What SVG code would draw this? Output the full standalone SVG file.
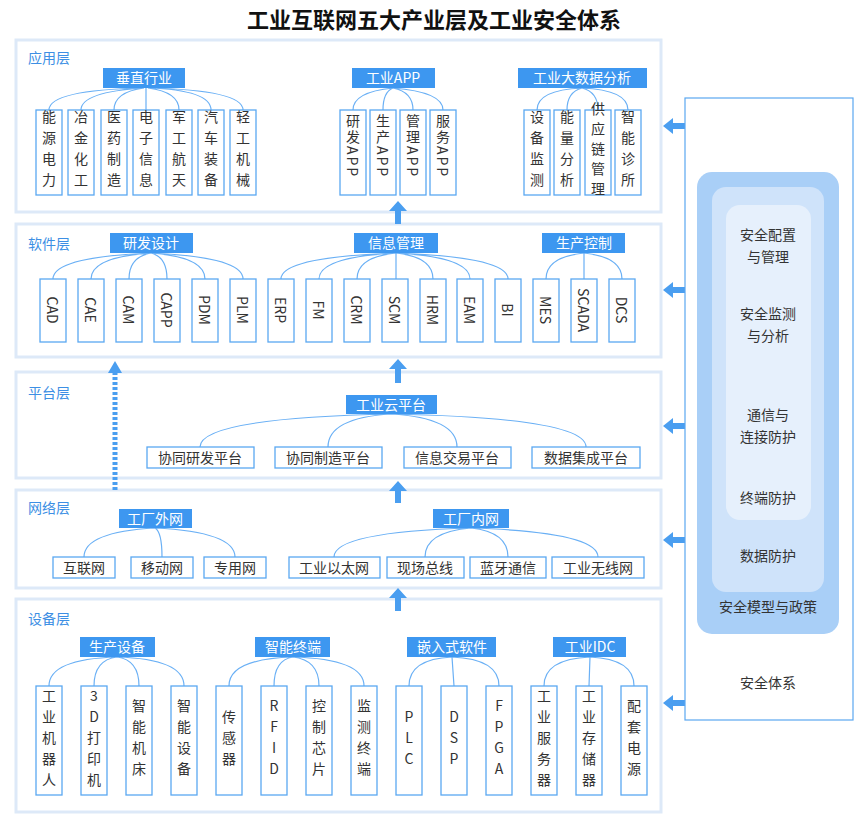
<svg xmlns="http://www.w3.org/2000/svg" width="868" height="820" viewBox="0 0 868 820">
<style>
text{font-family:"Noto Sans CJK SC","Noto Sans",sans-serif}
.title{font-size:22px;font-weight:bold;fill:#111}
.layer{fill:#fff;stroke:#dde9f8;stroke-width:3}
.ll{font-size:14px;fill:#3d8fe4}
.hd{fill:#3d97f0}
.ht{font-size:14px;fill:#fff;text-anchor:middle}
.bx{fill:#fff;stroke:#5aa8f2;stroke-width:1.3}
.vt{font-size:14px;fill:#333;writing-mode:vertical-rl;text-anchor:middle}
.vu{font-size:14px;fill:#333;writing-mode:vertical-rl;text-orientation:upright;text-anchor:middle}
.ht2{font-size:14px;fill:#333;text-anchor:middle}
.cn{fill:none;stroke:#6ab0f5;stroke-width:1.2}
.ar{fill:#4a9ef0}
.st{font-size:14px;fill:#333;text-anchor:middle}
</style>
<text class="title" x="434" y="28" text-anchor="middle">工业互联网五大产业层及工业安全体系</text>

<g id="layers">
<rect class="layer" x="16" y="40" width="645" height="172"/>
<text class="ll" x="28" y="63">应用层</text>
<rect class="layer" x="16" y="224" width="645" height="133"/>
<text class="ll" x="28" y="249">软件层</text>
<rect class="layer" x="16" y="372" width="645" height="106"/>
<text class="ll" x="28" y="398">平台层</text>
<rect class="layer" x="16" y="490" width="645" height="98"/>
<text class="ll" x="28" y="513">网络层</text>
<rect class="layer" x="16" y="599" width="645" height="213"/>
<text class="ll" x="28" y="624">设备层</text>
</g>

<g id="connectors">
<path class="cn" d="M144,88 Q49,90 49,110 M144,88 Q81,92 81,110 M144,88 Q114,92 114,110 M146,88 L146,110 M148,88 Q179,92 179,110 M148,88 Q211,90 211,110 M148,88 Q243,90 243,110"/>
<path class="cn" d="M393,88 Q353,92 353,110 M393,88 Q383,92 383,110 M393,88 Q413,92 413,110 M393,88 Q443,92 443,110"/>
<path class="cn" d="M582,88 Q537,90 537,110 M582,88 Q567,92 567,110 M582,88 Q598,92 598,110 M582,88 Q628,90 628,110"/>
<path class="cn" d="M151,253 Q53,257 53,279 M151,253 Q91,257 91,279 M151,253 Q129,257 129,279 M151,253 Q167,257 167,279 M151,253 Q205,257 205,279 M151,253 Q243,257 243,279"/>
<path class="cn" d="M396,253 Q281,257 281,279 M396,253 Q319,257 319,279 M396,253 Q357,257 357,279 M396,253 L396,279 M396,253 Q433,257 433,279 M396,253 Q470,257 470,279 M396,253 Q508,257 508,279"/>
<path class="cn" d="M584,253 Q546,257 546,279 M584,253 L584,279 M584,253 Q622,257 622,279"/>
<path class="cn" d="M391,414 Q200,418 200,447 M391,414 Q328,418 328,447 M391,414 Q457,418 457,447 M391,414 Q586,418 586,447"/>
<path class="cn" d="M155,528 Q84,532 84,557 M155,528 Q162,532 162,557 M155,528 Q235,532 235,557"/>
<path class="cn" d="M471,528 Q334,532 334,557 M471,528 Q425,532 425,557 M471,528 Q508,532 508,557 M471,528 Q598,532 598,557"/>
<path class="cn" d="M117,657 Q49,659 49,686 M117,657 Q94,660 94,686 M117,657 Q139,660 139,686 M117,657 Q184,659 184,686"/>
<path class="cn" d="M293,657 Q229,659 229,686 M293,657 Q274,660 274,686 M293,657 Q319,660 319,686 M293,657 Q364,659 364,686"/>
<path class="cn" d="M452,657 Q409,659 409,686 M452,657 L454,686 M452,657 Q499,659 499,686"/>
<path class="cn" d="M590,657 Q544,659 544,686 M590,657 L589,686 M590,657 Q634,659 634,686"/>
<path class="ar" d="M395,224 V211 H389 L398,201 L407,211 H401 V224 Z"/>
<path class="ar" d="M395,383 V369 H389 L398,359 L407,369 H401 V383 Z"/>
<path class="ar" d="M395,503 V491 H389 L398,481 L407,491 H401 V503 Z"/>
<path class="ar" d="M395,611 V598 H389 L398,588 L407,598 H401 V611 Z"/>
<path d="M115,490 V372" stroke="#4a9ef0" stroke-width="5" stroke-dasharray="3,2"/>
<path class="ar" d="M108,373 L115,361 L122,373 Z"/>
<path class="ar" d="M685,123 H673 V118 L663,126 L673,134 V129 H685 Z"/>
<path class="ar" d="M685,287 H673 V282 L663,290 L673,298 V293 H685 Z"/>
<path class="ar" d="M685,423 H673 V418 L663,426 L673,434 V429 H685 Z"/>
<path class="ar" d="M685,537 H673 V532 L663,540 L673,548 V543 H685 Z"/>
<path class="ar" d="M685,700 H673 V695 L663,703 L673,711 V706 H685 Z"/>
</g>

<g id="app">
<rect class="hd" x="103" y="68" width="82" height="20"/><text class="ht" x="144" y="83">垂直行业</text>
<rect class="bx" x="36" y="110" width="26" height="85"/><text class="vu" x="49" y="152" letter-spacing="7">能源电力</text>
<rect class="bx" x="68" y="110" width="26" height="85"/><text class="vu" x="81" y="152" letter-spacing="7">冶金化工</text>
<rect class="bx" x="101" y="110" width="26" height="85"/><text class="vu" x="114" y="152" letter-spacing="7">医药制造</text>
<rect class="bx" x="133" y="110" width="26" height="85"/><text class="vu" x="146" y="152" letter-spacing="7">电子信息</text>
<rect class="bx" x="166" y="110" width="26" height="85"/><text class="vu" x="179" y="152" letter-spacing="7">军工航天</text>
<rect class="bx" x="198" y="110" width="26" height="85"/><text class="vu" x="211" y="152" letter-spacing="7">汽车装备</text>
<rect class="bx" x="230" y="110" width="26" height="85"/><text class="vu" x="243" y="152" letter-spacing="7">轻工机械</text>
<rect class="hd" x="352" y="68" width="83" height="20"/><text class="ht" x="393" y="83">工业APP</text>
<rect class="bx" x="340" y="110" width="26" height="85"/><text class="vt" x="353" y="146" letter-spacing="2">研发APP</text>
<rect class="bx" x="370" y="110" width="26" height="85"/><text class="vt" x="383" y="146" letter-spacing="2">生产APP</text>
<rect class="bx" x="400" y="110" width="26" height="85"/><text class="vt" x="413" y="146" letter-spacing="2">管理APP</text>
<rect class="bx" x="430" y="110" width="26" height="85"/><text class="vt" x="443" y="146" letter-spacing="2">服务APP</text>
<rect class="hd" x="518" y="68" width="129" height="20"/><text class="ht" x="582" y="83">工业大数据分析</text>
<rect class="bx" x="524" y="110" width="26" height="85"/><text class="vu" x="537" y="152" letter-spacing="7">设备监测</text>
<rect class="bx" x="554" y="110" width="26" height="85"/><text class="vu" x="567" y="152" letter-spacing="7">能量分析</text>
<rect class="bx" x="585" y="110" width="26" height="85"/><text class="vu" x="598" y="152" font-size="11" letter-spacing="6">供应链管理</text>
<rect class="bx" x="615" y="110" width="26" height="85"/><text class="vu" x="628" y="152" letter-spacing="7">智能诊所</text>
</g>

<g id="software">
<rect class="hd" x="110" y="233" width="83" height="20"/><text class="ht" x="151" y="248">研发设计</text>
<rect class="hd" x="354" y="233" width="84" height="20"/><text class="ht" x="396" y="248">信息管理</text>
<rect class="hd" x="542" y="233" width="83" height="20"/><text class="ht" x="584" y="248">生产控制</text>
<rect class="bx" x="40" y="279" width="26" height="63"/><text class="vt" x="53" y="310">CAD</text>
<rect class="bx" x="78" y="279" width="26" height="63"/><text class="vt" x="91" y="310">CAE</text>
<rect class="bx" x="116" y="279" width="26" height="63"/><text class="vt" x="129" y="310">CAM</text>
<rect class="bx" x="154" y="279" width="26" height="63"/><text class="vt" x="167" y="310">CAPP</text>
<rect class="bx" x="192" y="279" width="26" height="63"/><text class="vt" x="205" y="310">PDM</text>
<rect class="bx" x="230" y="279" width="26" height="63"/><text class="vt" x="243" y="310">PLM</text>
<rect class="bx" x="268" y="279" width="26" height="63"/><text class="vt" x="281" y="310">ERP</text>
<rect class="bx" x="306" y="279" width="26" height="63"/><text class="vt" x="319" y="310">FM</text>
<rect class="bx" x="344" y="279" width="26" height="63"/><text class="vt" x="357" y="310">CRM</text>
<rect class="bx" x="382" y="279" width="26" height="63"/><text class="vt" x="395" y="310">SCM</text>
<rect class="bx" x="420" y="279" width="26" height="63"/><text class="vt" x="433" y="310">HRM</text>
<rect class="bx" x="457" y="279" width="26" height="63"/><text class="vt" x="470" y="310">EAM</text>
<rect class="bx" x="495" y="279" width="26" height="63"/><text class="vt" x="508" y="310">BI</text>
<rect class="bx" x="533" y="279" width="26" height="63"/><text class="vt" x="546" y="310">MES</text>
<rect class="bx" x="571" y="279" width="26" height="63"/><text class="vt" x="584" y="310">SCADA</text>
<rect class="bx" x="609" y="279" width="26" height="63"/><text class="vt" x="622" y="310">DCS</text>
</g>

<g id="platform">
<rect class="hd" x="346" y="395" width="91" height="19"/><text class="ht" x="391" y="410">工业云平台</text>
<rect class="bx" x="147" y="447" width="107" height="21"/><text class="ht2" x="200" y="463">协同研发平台</text>
<rect class="bx" x="275" y="447" width="107" height="21"/><text class="ht2" x="328" y="463">协同制造平台</text>
<rect class="bx" x="404" y="447" width="107" height="21"/><text class="ht2" x="457" y="463">信息交易平台</text>
<rect class="bx" x="532" y="447" width="108" height="21"/><text class="ht2" x="586" y="463">数据集成平台</text>
</g>

<g id="network">
<rect class="hd" x="119" y="509" width="73" height="19"/><text class="ht" x="155" y="524">工厂外网</text>
<rect class="hd" x="433" y="509" width="76" height="19"/><text class="ht" x="471" y="524">工厂内网</text>
<rect class="bx" x="53" y="557" width="62" height="21"/><text class="ht2" x="84" y="573">互联网</text>
<rect class="bx" x="131" y="557" width="62" height="21"/><text class="ht2" x="162" y="573">移动网</text>
<rect class="bx" x="204" y="557" width="62" height="21"/><text class="ht2" x="235" y="573">专用网</text>
<rect class="bx" x="289" y="557" width="91" height="21"/><text class="ht2" x="334" y="573">工业以太网</text>
<rect class="bx" x="387" y="557" width="77" height="21"/><text class="ht2" x="425" y="573">现场总线</text>
<rect class="bx" x="470" y="557" width="76" height="21"/><text class="ht2" x="508" y="573">蓝牙通信</text>
<rect class="bx" x="552" y="557" width="92" height="21"/><text class="ht2" x="598" y="573">工业无线网</text>
</g>

<g id="device">
<rect class="hd" x="80" y="637" width="75" height="20"/><text class="ht" x="117" y="652">生产设备</text>
<rect class="hd" x="255" y="637" width="75" height="20"/><text class="ht" x="293" y="652">智能终端</text>
<rect class="hd" x="407" y="637" width="89" height="20"/><text class="ht" x="452" y="652">嵌入式软件</text>
<rect class="hd" x="553" y="637" width="73" height="20"/><text class="ht" x="590" y="652">工业IDC</text>
<rect class="bx" x="36" y="686" width="26" height="109"/><text class="vu" x="49" y="741" letter-spacing="7">工业机器人</text>
<rect class="bx" x="81" y="686" width="26" height="109"/><text class="vu" x="94" y="741" letter-spacing="7">3D打印机</text>
<rect class="bx" x="126" y="686" width="26" height="109"/><text class="vu" x="139" y="741" letter-spacing="7">智能机床</text>
<rect class="bx" x="171" y="686" width="26" height="109"/><text class="vu" x="184" y="741" letter-spacing="7">智能设备</text>
<rect class="bx" x="216" y="686" width="26" height="109"/><text class="vu" x="229" y="741" letter-spacing="7">传感器</text>
<rect class="bx" x="261" y="686" width="26" height="109"/><text class="vu" x="274" y="741" letter-spacing="7">RFID</text>
<rect class="bx" x="306" y="686" width="26" height="109"/><text class="vu" x="319" y="741" letter-spacing="7">控制芯片</text>
<rect class="bx" x="351" y="686" width="26" height="109"/><text class="vu" x="364" y="741" letter-spacing="7">监测终端</text>
<rect class="bx" x="396" y="686" width="26" height="109"/><text class="vu" x="409" y="741" letter-spacing="7">PLC</text>
<rect class="bx" x="441" y="686" width="26" height="109"/><text class="vu" x="454" y="741" letter-spacing="7">DSP</text>
<rect class="bx" x="486" y="686" width="26" height="109"/><text class="vu" x="499" y="741" letter-spacing="7">FPGA</text>
<rect class="bx" x="531" y="686" width="26" height="109"/><text class="vu" x="544" y="741" letter-spacing="7">工业服务器</text>
<rect class="bx" x="576" y="686" width="26" height="109"/><text class="vu" x="589" y="741" letter-spacing="7">工业存储器</text>
<rect class="bx" x="621" y="686" width="26" height="109"/><text class="vu" x="634" y="741" letter-spacing="7">配套电源</text>
</g>

<g id="security">
<rect x="685" y="98" width="168" height="622" fill="#fff" stroke="#5aa7f0" stroke-width="1.2"/>
<rect x="697" y="172" width="142" height="462" rx="15" fill="#a9cff7"/>
<rect x="712" y="187" width="112" height="405" rx="14" fill="#cfe3fa"/>
<rect x="726" y="205" width="85" height="315" rx="14" fill="#e6f0fc"/>
<text class="st" x="768" y="240">安全配置</text><text class="st" x="768" y="262">与管理</text>
<text class="st" x="768" y="319">安全监测</text><text class="st" x="768" y="341">与分析</text>
<text class="st" x="768" y="420">通信与</text><text class="st" x="768" y="442">连接防护</text>
<text class="st" x="768" y="503">终端防护</text>
<text class="st" x="768" y="561">数据防护</text>
<text class="st" x="768" y="612">安全模型与政策</text>
<text class="st" x="768" y="688">安全体系</text>
</g>
</svg>
